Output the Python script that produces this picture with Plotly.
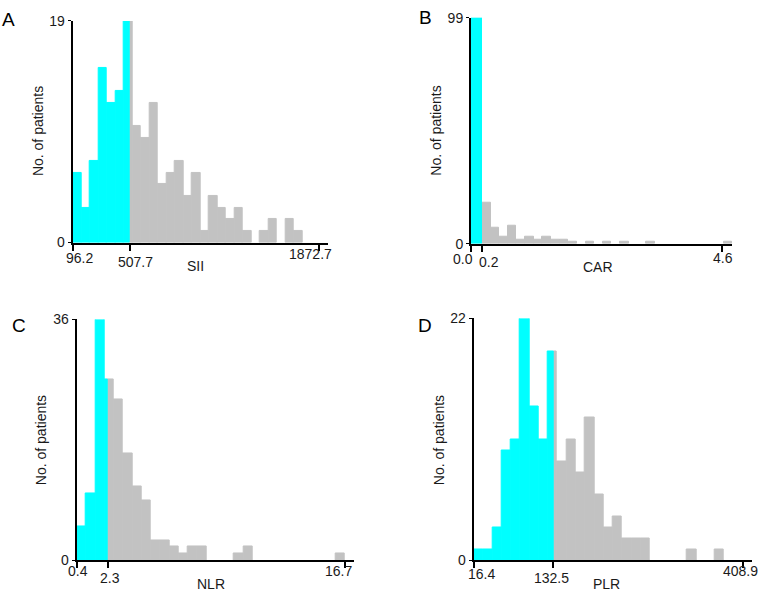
import numpy as np
import plotly.graph_objects as go

# ---------------- data ----------------
sii_counts = [6, 3, 7, 15, 12, 13, 19, 10, 9, 12, 5, 6, 7, 4, 6, 1, 4, 3, 2, 3, 1, 0, 1, 2, 0, 2, 1, 0, 0]
sii_ticks = [96.2, 507.7, 1872.7]
sii_cut = 507.7
sii_bin_start = 96.2
sii_bin_width = (1872.7 - 96.2) / 29

car_counts = [99, 18, 7, 3, 8, 2, 3, 2, 3, 2, 2, 1, 0, 1, 0, 1, 0, 1, 0, 0, 1, 0, 0, 0, 0, 0, 0, 0, 0, 1]
car_ticks = [0.0, 0.2, 4.6]
car_tick_labels = ["0.0", "0.2", "4.6"]
car_cut = 0.2
car_bin_start = 0.042
car_bin_width = 0.158

nlr_counts = [5, 10, 36, 27, 24, 16, 11, 9, 3, 3, 2, 1, 2, 2, 0, 0, 0, 1, 2, 0, 0, 0, 0, 0, 0, 0, 0, 0, 1]
nlr_ticks = [0.4, 2.3, 16.7]
nlr_cut = 2.3
nlr_bin_start = 0.4
nlr_bin_width = (16.7 - 0.4) / 29

plr_counts = [1, 1, 3, 10, 11, 22, 14, 11, 19, 9, 11, 8, 13, 6, 3, 4, 2, 2, 2, 0, 0, 0, 0, 1, 0, 0, 1, 0, 0]
plr_ticks = [16.4, 132.5, 408.9]
plr_cut = 132.5
plr_bin_start = 16.4
plr_bin_width = (408.9 - 16.4) / 29

panel_letters = ["A", "B", "C", "D"]
x_titles = ["SII", "CAR", "NLR", "PLR"]
y_title = "No. of patients"

# ---------------- style / layout ----------------
W, H = 764, 600
LOW_COLOR = "#00FFFF"
HIGH_COLOR = "#C2C2C2"
FONT = "Liberation Sans, Arial, sans-serif"
TXT = "#1a1a1a"

# pixel boxes of each plotting area: (left, right, top, bottom) and axis x max
panels = [
    dict(counts=sii_counts, ticks=sii_ticks, labels=[f"{v:.1f}" for v in sii_ticks], cut=sii_cut,
         start=sii_bin_start, width=sii_bin_width, xmax=1937.5,
         box=(72.7, 328.3, 13.3, 241.0),
         lab_off=[(6.3, 15), (5.5, 19), (-8.5, 11)],
         xt=(195, 265), yt=(37.5, 127), letter=(8, 11.5)),
    dict(counts=car_counts, ticks=car_ticks, labels=car_tick_labels, cut=car_cut,
         start=car_bin_start, width=car_bin_width, xmax=4.78,
         box=(471.0, 732.3, 10.0, 242.3),
         lab_off=[(-8, 15), (7, 18), (0.5, 14)],
         xt=(598, 266), yt=(436, 126), letter=(425.5, 10)),
    dict(counts=nlr_counts, ticks=nlr_ticks, labels=[f"{v:.1f}" for v in nlr_ticks], cut=nlr_cut,
         start=nlr_bin_start, width=nlr_bin_width, xmax=17.25,
         box=(76.7, 354.0, 320.0, 567.3),
         lab_off=[(1.3, 11), (2, 18), (-6.2, 11)],
         xt=(211, 591.7), yt=(41, 444), letter=(19, 326.5)),
    dict(counts=plr_counts, ticks=plr_ticks, labels=[f"{v:.1f}" for v in plr_ticks], cut=plr_cut,
         start=plr_bin_start, width=plr_bin_width, xmax=422.0,
         box=(473.7, 751.7, 319.0, 567.3),
         lab_off=[(7.3, 14), (-1.6, 18), (-2, 11)],
         xt=(606, 592), yt=(439, 444), letter=(425, 326)),
]

fig = go.Figure()
annotations = []
layout_axes = {}


def px(x):
    return x / W


def py(y):
    return 1 - y / H


for i, p in enumerate(panels, start=1):
    xa = "x" if i == 1 else f"x{i}"
    ya = "y" if i == 1 else f"y{i}"
    counts = np.array(p["counts"], dtype=float)
    n = len(counts)
    xmin = p["ticks"][0]
    edges = p["start"] + p["width"] * np.arange(n + 1)
    edges[0] = xmin
    cut = p["cut"]

    segs = {"low": ([], [], []), "high": ([], [], [])}
    for k in range(n):
        l, r, c = edges[k], edges[k + 1], counts[k]
        if c <= 0:
            continue
        if r <= cut + 1e-9:
            parts = [("low", l, r)]
        elif l >= cut - 1e-9:
            parts = [("high", l, r)]
        else:
            parts = [("low", l, cut), ("high", cut, r)]
        for g, a, b in parts:
            segs[g][0].append((a + b) / 2)
            segs[g][1].append(c)
            segs[g][2].append(b - a)

    for g, col in (("high", HIGH_COLOR), ("low", LOW_COLOR)):
        xs, ys, ws = segs[g]
        fig.add_trace(go.Bar(
            x=xs, y=ys, width=ws, xaxis=xa, yaxis=ya,
            marker=dict(color=col, line=dict(color=col, width=1)),
            showlegend=False, hoverinfo="x+y",
        ))

    left, right, top, bottom = p["box"]
    ymax = max(p["counts"])
    layout_axes["xaxis" if i == 1 else f"xaxis{i}"] = dict(
        domain=[px(left), px(right)], range=[xmin, p["xmax"]], anchor=ya,
        showline=True, linecolor="black", linewidth=2,
        tickmode="array", tickvals=p["ticks"], ticks="outside", ticklen=6,
        tickwidth=1.5, tickcolor="black", showticklabels=False,
        showgrid=False, zeroline=False, fixedrange=True,
    )
    layout_axes["yaxis" if i == 1 else f"yaxis{i}"] = dict(
        domain=[py(bottom), py(top)], range=[0, ymax], anchor=xa,
        showline=True, linecolor="black", linewidth=2,
        tickmode="array", tickvals=[0, ymax], ticktext=["0", str(ymax)],
        ticks="outside", ticklen=3, tickwidth=1, tickcolor="black",
        tickfont=dict(family=FONT, size=14, color=TXT),
        showgrid=False, zeroline=False, fixedrange=True,
    )

    # x tick labels
    for v, lab, (dx, dy) in zip(p["ticks"], p["labels"], p["lab_off"]):
        annotations.append(dict(
            x=v, y=0, xref=xa, yref=ya, text=lab, showarrow=False,
            xanchor="center", yanchor="middle", xshift=dx, yshift=-dy,
            font=dict(family=FONT, size=14, color=TXT),
        ))
    # axis titles
    annotations.append(dict(
        x=px(p["xt"][0]), y=py(p["xt"][1]), xref="paper", yref="paper",
        text=x_titles[i - 1], showarrow=False, xanchor="center", yanchor="middle",
        font=dict(family=FONT, size=14, color=TXT),
    ))
    annotations.append(dict(
        x=px(p["yt"][0]), y=py(p["yt"][1]), xref="paper", yref="paper",
        text=y_title, showarrow=False, xanchor="center", yanchor="middle",
        textangle=-90, font=dict(family=FONT, size=14, color=TXT),
    ))
    annotations.append(dict(
        x=px(p["letter"][0]), y=py(p["letter"][1]), xref="paper", yref="paper",
        text=panel_letters[i - 1], showarrow=False, xanchor="center", yanchor="middle",
        font=dict(family=FONT, size=19, color="black"),
    ))

fig.update_layout(
    width=W, height=H, margin=dict(l=0, r=0, t=0, b=0),
    paper_bgcolor="white", plot_bgcolor="white",
    barmode="overlay", bargap=0,
    annotations=annotations,
    **layout_axes,
)

fig.write_html(
    "out.html",
    config={"displayModeBar": False},
    post_script="document.body.style.margin='0';document.body.style.overflow='hidden';",
)
